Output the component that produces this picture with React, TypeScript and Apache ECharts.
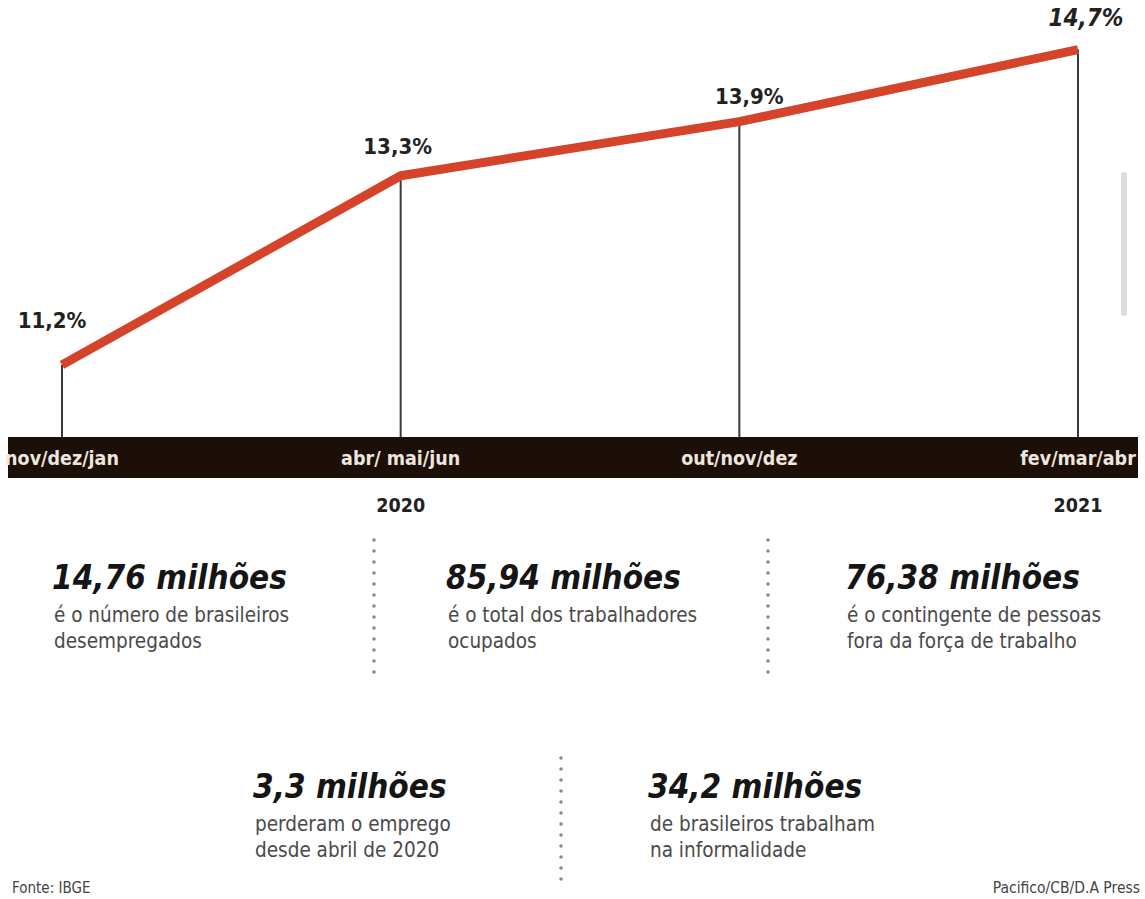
import React, { useEffect, useRef } from "react";
import * as echarts from "echarts";

const categories = ["nov/dez/jan", "abr/ mai/jun", "out/nov/dez", "fev/mar/abr"];
const years = ["", "2020", "", "2021"];
const rates = [11.2, 13.3, 13.9, 14.7];

const headlines = ["14,76 milhões", "85,94 milhões", "76,38 milhões", "3,3 milhões", "34,2 milhões"];
const captions = [
  ["é o número de brasileiros", "desempregados"],
  ["é o total dos trabalhadores", "ocupados"],
  ["é o contingente de pessoas", "fora da força de trabalho"],
  ["perderam o emprego", "desde abril de 2020"],
  ["de brasileiros trabalham", "na informalidade"],
];
const sourceText = "Fonte: IBGE";
const creditText = "Pacifico/CB/D.A Press";

const FONT = "'DejaVu Sans Condensed', 'Liberation Sans Narrow', sans-serif";

export default function App() {
  const ref = useRef<HTMLDivElement>(null);
  useEffect(() => {
    if (!ref.current) return;
    const chart = echarts.init(ref.current, null, { renderer: "svg" });

    const labelOffsets = [
      [-10, -28],
      [-3, -13],
      [10, -9],
      [8, -14],
    ];
    const blockPos = [
      [52, 577],
      [446, 577],
      [845, 577],
      [253, 786],
      [648, 786],
    ];

    const graphics: any[] = [
      {
        type: "rect",
        z: 0,
        shape: { x: 8, y: 437, width: 1130, height: 41 },
        style: { fill: "#1c0f07" },
      },
      {
        type: "rect",
        z: 0,
        shape: { x: 1121, y: 172, width: 6, height: 144, r: 3 },
        style: { fill: "#dcdcdc" },
      },
    ];
    const dots = [
      [374, 540, 676],
      [768, 540, 676],
      [561, 758, 886],
    ];
    dots.forEach(([x, y1, y2]) => {
      graphics.push({
        type: "line",
        z: 0,
        shape: { x1: x, y1, x2: x, y2 },
        style: { stroke: "#888888", lineWidth: 3.5, lineDash: [0.1, 10.9], lineCap: "round" },
      });
    });
    headlines.forEach((h, i) => {
      const [x, y] = blockPos[i];
      graphics.push({
        type: "text",
        z: 1,
        x,
        y,
        style: {
          text: h,
          fill: "#151515",
          fontSize: 33,
          fontWeight: "bold",
          fontStyle: "italic",
          fontFamily: FONT,
          textVerticalAlign: "middle",
        },
      });
      captions[i].forEach((c, j) => {
        graphics.push({
          type: "text",
          z: 1,
          x: x + 2,
          y: y + 38 + j * 26,
          style: {
            text: c,
            fill: "#4a4a4a",
            fontSize: 20.5,
            fontFamily: FONT,
            textVerticalAlign: "middle",
          },
        });
      });
    });
    graphics.push({
      type: "text",
      z: 1,
      x: 12,
      y: 888,
      style: { text: sourceText, fill: "#444", fontSize: 15, fontFamily: FONT, textVerticalAlign: "middle" },
    });
    graphics.push({
      type: "text",
      z: 1,
      x: 1140,
      y: 888,
      style: {
        text: creditText,
        fill: "#444",
        fontSize: 15.5,
        fontFamily: FONT,
        textAlign: "right",
        textVerticalAlign: "middle",
      },
    });

    chart.setOption({
      animation: false,
      backgroundColor: "#ffffff",
      grid: { left: 62, right: 67, top: 0, bottom: 462 },
      xAxis: {
        type: "category",
        data: categories,
        boundaryGap: false,
        z: 5,
        axisLine: { show: false },
        axisTick: { show: false },
        splitLine: { show: false },
        axisLabel: {
          interval: 0,
          margin: 0,
          formatter: (v: string, i: number) => `{a|${v}}\n{b|${years[i] || " "}}`,
          rich: {
            a: { color: "#ede6df", fontSize: 19.5, fontWeight: "bold", fontFamily: FONT, lineHeight: 42 },
            b: { color: "#222", fontSize: 19.5, fontWeight: "bold", fontFamily: FONT, lineHeight: 52 },
          },
        },
      },
      yAxis: {
        type: "value",
        min: 10.4,
        max: 15.25,
        show: false,
        splitLine: { show: false },
      },
      graphic: { elements: graphics },
      series: [
        {
          type: "bar",
          data: rates,
          barWidth: 2,
          clip: true,
          z: 1,
          itemStyle: { color: "#3a3a3a" },
          silent: true,
        },
        {
          type: "line",
          data: rates.map((v, i) => ({
            value: v,
            label:
              i === rates.length - 1
                ? { offset: labelOffsets[i], fontSize: 24, fontStyle: "italic" }
                : { offset: labelOffsets[i] },
          })),
          symbol: "circle",
          symbolSize: 1,
          z: 3,
          itemStyle: { color: "#d5432a" },
          lineStyle: { color: "#d5432a", width: 9, cap: "butt", join: "round" },
          label: {
            show: true,
            position: "top",
            color: "#222",
            fontSize: 22,
            fontWeight: "bold",
            fontFamily: FONT,
            formatter: (p: any) => `${String(p.value).replace(".", ",")}%`,
          },
        },
      ],
    });
    return () => chart.dispose();
  }, []);
  return (
    <div
      ref={ref}
      style={{ position: "fixed", left: 0, top: 0, width: 1145, height: 899, background: "#fff" }}
    />
  );
}
